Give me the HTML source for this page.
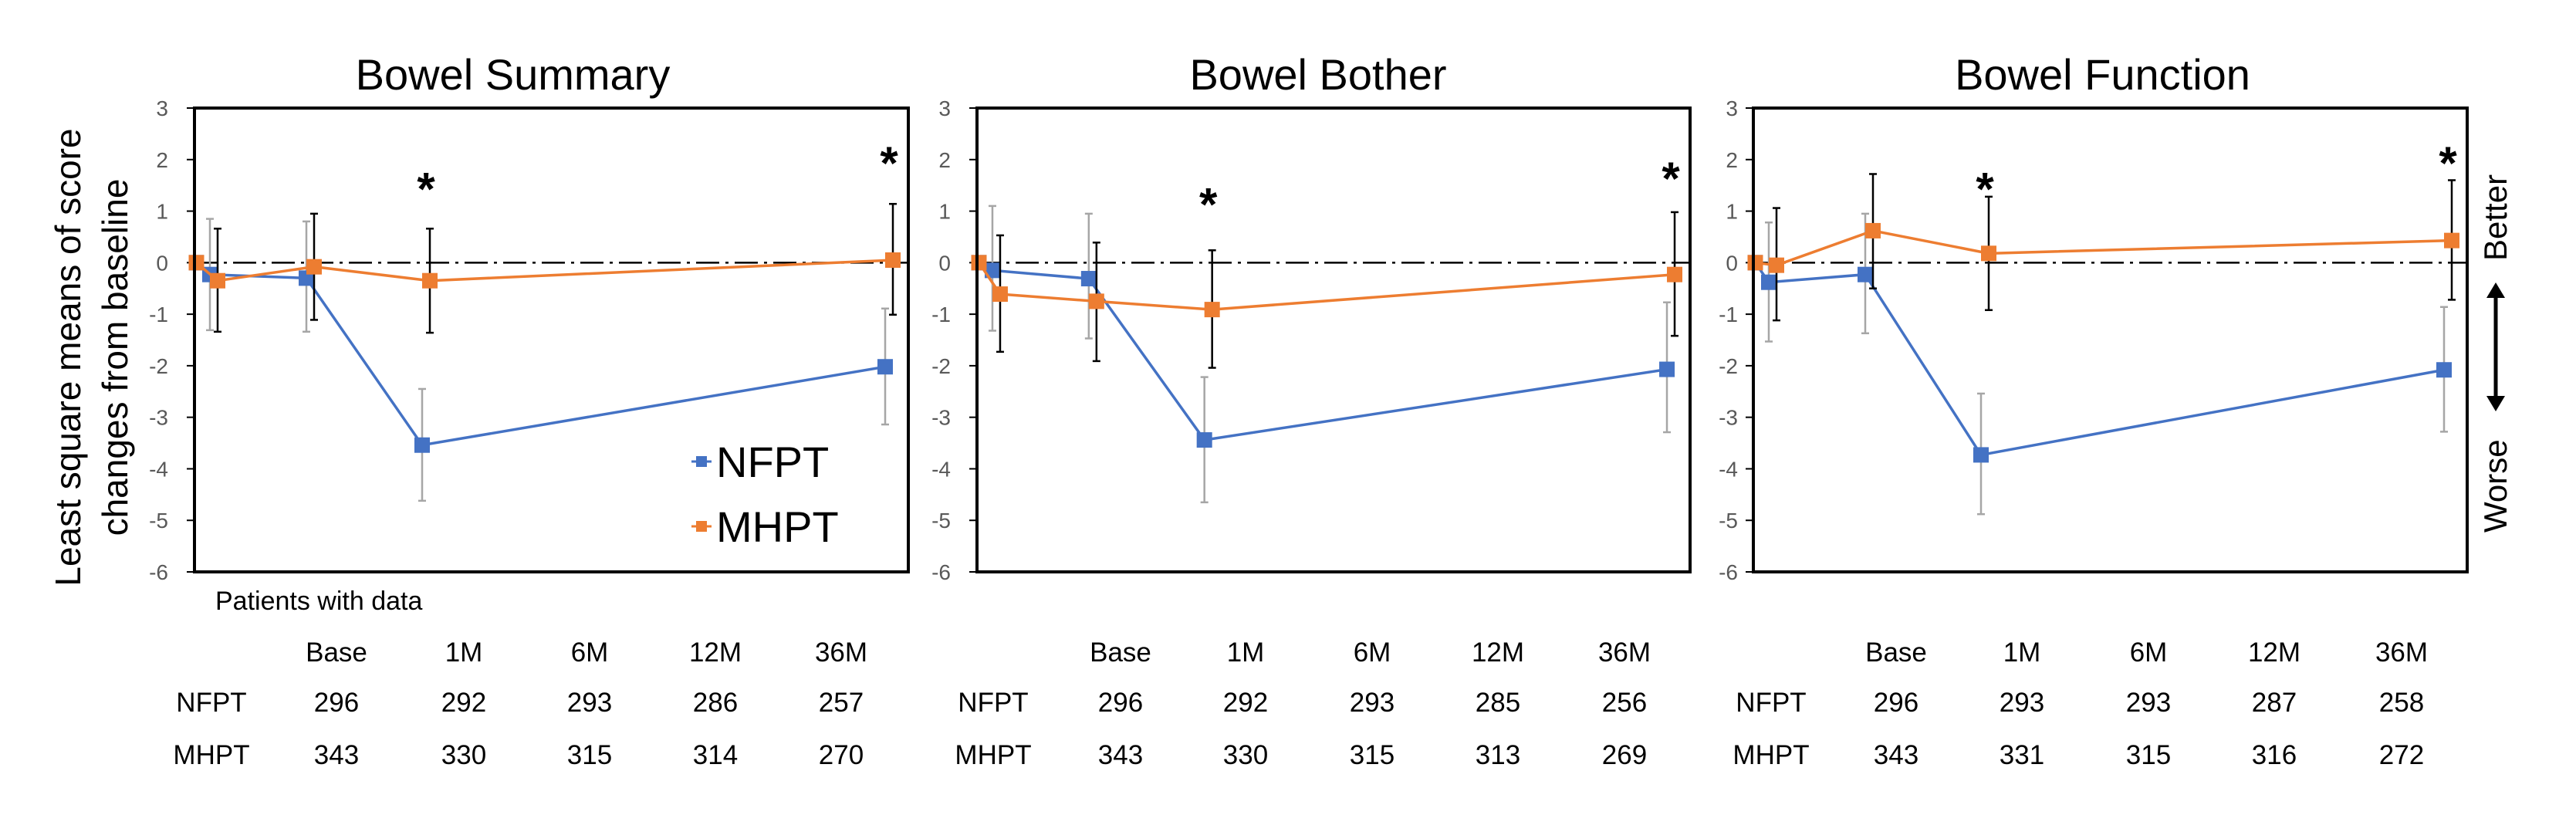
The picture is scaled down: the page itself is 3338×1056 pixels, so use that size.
<!DOCTYPE html>
<html><head><meta charset="utf-8"><style>
html,body{margin:0;padding:0;background:#fff;}
svg{display:block;font-family:"Liberation Sans",sans-serif;}
</style></head><body>
<svg id="chart" width="3338" height="1056" viewBox="0 0 3338 1056" xmlns="http://www.w3.org/2000/svg">
<g font-size="46" fill="#000">
<text transform="translate(104,463) rotate(-90)" text-anchor="middle">Least square means of score</text>
<text transform="translate(165,463) rotate(-90)" text-anchor="middle">changes from baseline</text>
</g>
<g>
<text transform="translate(3248,338) rotate(-90)" font-size="42">Better</text>
<text transform="translate(3248,690) rotate(-90)" font-size="42">Worse</text>
<line x1="3234" y1="380" x2="3234" y2="520" stroke="#000" stroke-width="5"/>
<polygon points="3234,366 3222,386 3246,386" fill="#000"/>
<polygon points="3234,533 3222,513 3246,513" fill="#000"/>
</g>
<g>
<line x1="896" y1="598" x2="922" y2="598" stroke="#4472C4" stroke-width="3"/>
<rect x="902" y="591" width="14" height="14" fill="#4472C4"/>
<text x="928" y="618" font-size="56">NFPT</text>
<line x1="896" y1="682" x2="922" y2="682" stroke="#ED7D31" stroke-width="3"/>
<rect x="902" y="675" width="14" height="14" fill="#ED7D31"/>
<text x="928" y="702" font-size="56">MHPT</text>
</g>
<text x="279" y="790" font-size="34">Patients with data</text>
</svg>
<script>
const months = [0, 1, 6, 12, 36];
const yTicks = [3, 2, 1, 0, -1, -2, -3, -4, -5, -6];
const timeLabels = ["Base", "1M", "6M", "12M", "36M"];
const titles = ["Bowel Summary", "Bowel Bother", "Bowel Function"];
// values per panel
const nfptMean = [[0,-0.23,-0.3,-3.54,-2.02],[0,-0.15,-0.31,-3.44,-2.07],[0,-0.38,-0.23,-3.73,-2.08]];
const nfptHi = [[0,0.85,0.8,-2.45,-0.89],[0,1.1,0.95,-2.22,-0.77],[0,0.78,0.95,-2.54,-0.86]];
const nfptLo = [[0,-1.31,-1.34,-4.62,-3.14],[0,-1.32,-1.47,-4.65,-3.29],[0,-1.53,-1.37,-4.88,-3.28]];
const mhptMean = [[0,-0.35,-0.08,-0.35,0.05],[0,-0.61,-0.75,-0.91,-0.23],[0,-0.05,0.62,0.18,0.43]];
const mhptHi = [[0,0.66,0.95,0.66,1.14],[0,0.53,0.39,0.24,0.98],[0,1.06,1.72,1.28,1.6]];
const mhptLo = [[0,-1.34,-1.11,-1.36,-1.01],[0,-1.73,-1.91,-2.04,-1.42],[0,-1.12,-0.5,-0.92,-0.72]];
const nfptCounts = [[296,292,293,286,257],[296,292,293,285,256],[296,293,293,287,258]];
const mhptCounts = [[343,330,315,314,270],[343,330,315,313,269],[343,331,315,316,272]];
const starValues = [[1.6, 2.1],[1.3, 1.8],[1.6, 2.1]];

const NS = "http://www.w3.org/2000/svg";
const svg = document.getElementById('chart');
function mk(tag, attrs, parent){ const e=document.createElementNS(NS,tag); for(const k in attrs) e.setAttribute(k,attrs[k]); (parent||svg).appendChild(e); return e; }
const panels = [
  {left:252,right:1177,tableLab:274,cols:[436,601,764,927,1090]},
  {left:1266,right:2190,tableLab:1287,cols:[1452,1614,1778,1941,2105]},
  {left:2272,right:3197,tableLab:2295,cols:[2457,2620,2784,2947,3112]}
];
const TOP=140, BOT=741, YMAX=3, YMIN=-6, XMAX=37;
panels.forEach((p,pi)=>{
  const g = mk('g',{});
  
  
  const xs = m => p.left + (m/XMAX)*(p.right-p.left);
  const ys = v => TOP + (YMAX-v)/(YMAX-YMIN)*(BOT-TOP);
  const t = mk('text',{x:(p.left+p.right)/2+(pi==0?-50:pi==2?-10:-20),y:116,'font-size':56,'text-anchor':'middle'},g);
  t.textContent = titles[pi];
  
  
  yTicks.forEach(v=>{
    const tl = mk('text',{x:p.left-(pi==2?20:34),y:ys(v)+10,'font-size':28,fill:'#595959','text-anchor':'end'},g);
    tl.textContent = v;
    
    
    mk('line',{x1:p.left-10,x2:p.left,y1:ys(v),y2:ys(v),stroke:'#000','stroke-width':2},g);
  });
  const zl = mk('line',{x1:p.left,x2:p.right,y1:ys(0),y2:ys(0),stroke:'#000','stroke-width':2.5,'stroke-dasharray':'30 8 4 8'},g);
  
  
  const series = [
    {name:'nfpt',mean:nfptMean[pi],hi:nfptHi[pi],lo:nfptLo[pi],col:'#4472C4',err:'#A6A6A6',off:-0.2},
    {name:'mhpt',mean:mhptMean[pi],hi:mhptHi[pi],lo:mhptLo[pi],col:'#ED7D31',err:'#000',off:0.2}
  ];
  series.forEach(s=>{
    const xx = months.map((m,i)=> xs(i==0?0.1:m+s.off));
    months.forEach((m,i)=>{
      if(i==0) return;
      const eb = mk('g',{stroke:s.err,'stroke-width':2.5},g);
      
      
      mk('line',{x1:xx[i],x2:xx[i],y1:ys(s.hi[i]),y2:ys(s.lo[i])},eb);
      mk('line',{x1:xx[i]-5,x2:xx[i]+5,y1:ys(s.hi[i]),y2:ys(s.hi[i])},eb);
      mk('line',{x1:xx[i]-5,x2:xx[i]+5,y1:ys(s.lo[i]),y2:ys(s.lo[i])},eb);
    });
    const pl = mk('polyline',{points:months.map((m,i)=>xx[i]+','+ys(s.mean[i])).join(' '),fill:'none',stroke:s.col,'stroke-width':3.5},g);
    
    
    months.forEach((m,i)=>{
      const r = mk('rect',{x:xx[i]-10,y:ys(s.mean[i])-10,width:20,height:20,fill:s.col},g);
      
      
    });
  });
  [12,36].forEach((m,k)=>{
    const st = mk('text',{x:xs(m),y:ys(starValues[pi][k])+32,'font-size':60,'font-weight':'bold','text-anchor':'middle'},g);
    st.textContent='*';
    
    
  });
  const box = mk('rect',{x:p.left,y:TOP,width:p.right-p.left,height:BOT-TOP,fill:'none',stroke:'#000','stroke-width':4},g);
  
  
  const tb = mk('g',{'font-size':35,'text-anchor':'middle',fill:'#000'},g);
  
  
  const a = mk('text',{x:p.tableLab,y:922},tb); a.textContent='NFPT';
  const b = mk('text',{x:p.tableLab,y:990},tb); b.textContent='MHPT';
  p.cols.forEach((cx,i)=>{
    const h = mk('text',{x:cx,y:857},tb); h.textContent=timeLabels[i];
    const n = mk('text',{x:cx,y:922},tb); n.textContent=nfptCounts[pi][i];
    const q = mk('text',{x:cx,y:990},tb); q.textContent=mhptCounts[pi][i];
  });
});
</script>
</body></html>
